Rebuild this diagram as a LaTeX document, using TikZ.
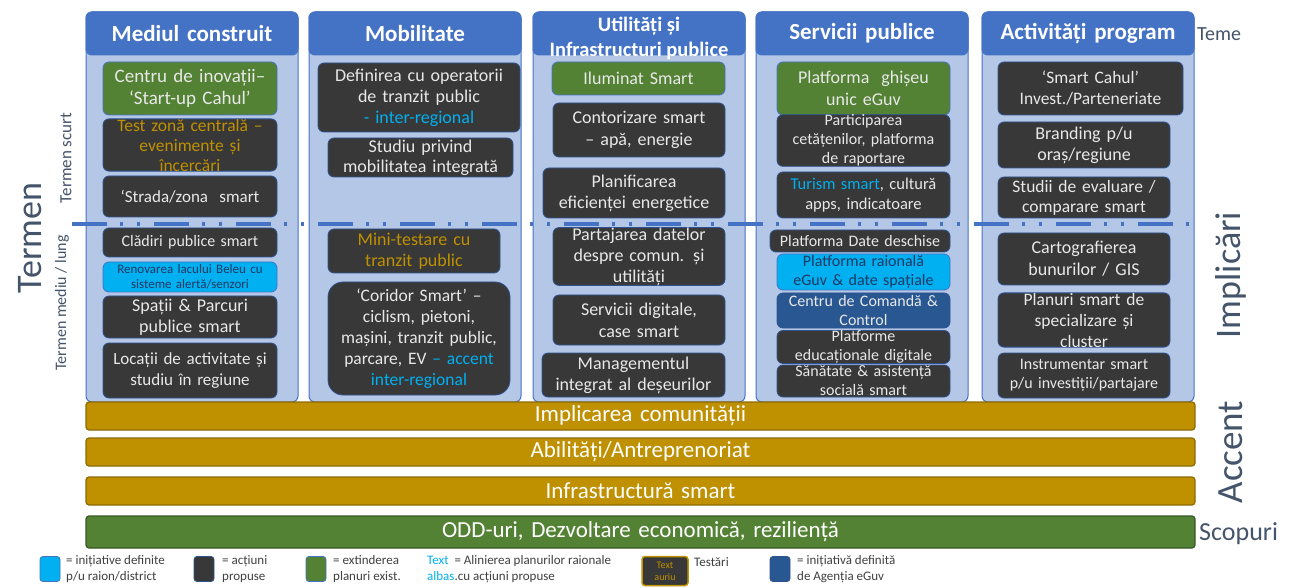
\documentclass[tikz,border=0pt]{standalone}
\usepackage{fontspec}
\setmainfont{Carlito}
\definecolor{colfill}{HTML}{B4C7E7}
\definecolor{colb}{HTML}{4472C4}
\definecolor{hdrfill}{HTML}{4472C4}
\definecolor{dkfill}{HTML}{383838}
\definecolor{dkline}{HTML}{2F528F}
\definecolor{dktext}{HTML}{E8E8E8}
\definecolor{grfill}{HTML}{548235}
\definecolor{lbfill}{HTML}{00B0F0}
\definecolor{navy}{HTML}{1F3864}
\definecolor{dbfill}{HTML}{285791}
\definecolor{gold}{HTML}{BF9000}
\definecolor{goldd}{HTML}{8C6A00}
\definecolor{greend}{HTML}{385723}
\definecolor{tblue}{HTML}{00B0F0}
\definecolor{slate}{HTML}{44546A}
\definecolor{legtext}{HTML}{404040}
\newcommand\fsz[2]{\fontsize{#1}{#2}\selectfont}
\newcommand\mkbox[7]{%
  \pgfmathsetmacro\mbw{#5-#3}%
  \pgfmathsetmacro\mbh{#6-#4}%
  \node[#2, minimum width=\mbw pt, minimum height=\mbh pt, text width=\mbw pt] (#1) at ({(#3+#5)/2},{(#4+#6)/2}) {#7};}
\tikzset{
  colbody/.style={draw=colb, fill=colfill, rounded corners=6pt, line width=1pt, inner sep=0pt},
  hdr/.style={draw=colb, fill=hdrfill, rounded corners=6pt, line width=1pt, text=white, align=center, inner sep=0pt, font=\fsz{23}{25}\bfseries},
  bbox/.style={rounded corners=6pt, draw=dkline, line width=0.8pt, align=center, inner sep=0pt},
  dk/.style={bbox, fill=dkfill, text=dktext},
  gr/.style={bbox, fill=grfill, text=dktext, draw=colb},
  lb/.style={bbox, fill=lbfill, text=navy, draw=colb},
  db/.style={bbox, fill=dbfill, text=dktext},
  bar/.style={draw=goldd, fill=gold, rounded corners=3pt, line width=1.2pt, text=white, align=center, inner sep=0pt, font=\fsz{23}{25}},
  gbar/.style={bar, draw=greend, fill=grfill},
  dashline/.style={colb, line width=3.5pt, dash pattern=on 35pt off 13pt on 3pt off 14pt on 3pt off 14pt},
  sidelab/.style={text=slate, inner sep=0pt},
  legsq/.style={rounded corners=3pt, draw=dkline, line width=0.8pt, minimum width=20pt, minimum height=25pt, inner sep=0pt},
  legtx/.style={anchor=west, align=left, text=legtext, inner sep=0pt, font=\fsz{13}{15.5}},
}
\begin{document}
\begin{tikzpicture}[x=1pt,y=-1pt]
\useasboundingbox[fill=white] (0,0) rectangle (1294,588);
% columns
\mkbox{c1}{colbody}{86}{12}{298}{402}{}
\mkbox{c2}{colbody}{309}{12}{521}{402}{}
\mkbox{c3}{colbody}{533}{12}{745}{402}{}
\mkbox{c4}{colbody}{756}{12}{968}{402}{}
\mkbox{c5}{colbody}{982}{12}{1194}{402}{}
% headers
\mkbox{h1}{hdr}{86}{12}{298}{55}{Mediul construit}
\mkbox{h2}{hdr}{309}{12}{521}{55}{Mobilitate}
\mkbox{h3}{hdr,font=\fsz{20.5}{25}\bfseries}{533}{12}{745}{55}{}
\node[text=white, align=center, inner sep=0pt, font=\fsz{20.5}{25}\bfseries] (h3t) at (639,38) {Utilități și\\Infrastructuri publice};
\mkbox{h4}{hdr}{756}{12}{968}{55}{Servicii publice}
\mkbox{h5}{hdr}{982}{12}{1194}{55}{Activități program}
% dash-dot separator
\coordinate (dl) at (72,224);
\coordinate (dr) at (1200,224);
\draw[dashline] (dl) -- (dr);
% column 1
\mkbox{m1}{gr,font=\fsz{19}{22}}{103}{62}{277}{115}{Centru de inovații–\\‘Start-up Cahul’}
\mkbox{m2}{dk,text=gold,font=\fsz{17.5}{20}}{103}{122}{277}{168}{Test zonă centrală –\\evenimente și\\încercări}
\mkbox{m3}{dk,font=\fsz{17}{20}}{103}{176}{277}{217}{‘Strada/zona\ \ smart}
\mkbox{m4}{dk,font=\fsz{16}{19}}{103}{228}{277}{257}{Clădiri publice smart}
\mkbox{m5}{lb,font=\fsz{13}{15}}{103}{262}{277}{292}{Renovarea lacului Beleu cu\\sisteme alertă/senzori}
\mkbox{m6}{dk,font=\fsz{18}{21}}{103}{296}{277}{338}{Spații \& Parcuri\\publice smart}
\mkbox{m7}{dk,font=\fsz{17}{21}}{103}{343}{277}{398}{Locații de activitate și\\studiu în regiune}
% column 2
\mkbox{o1}{dk,font=\fsz{18}{21}}{318}{63}{520}{132}{Definirea cu operatorii\\de tranzit public\\{\color{tblue}- inter-regional}}
\mkbox{o2}{dk,font=\fsz{18}{20}}{328}{138}{513}{177}{Studiu privind\\mobilitatea integrată}
\mkbox{o3}{dk,text=gold,font=\fsz{18}{21}}{328}{229}{500}{273}{Mini-testare cu\\tranzit public}
\mkbox{o4}{dk,rounded corners=15pt,font=\fsz{17.5}{21}}{328}{282}{510}{395}{‘Coridor Smart’ –\\ciclism, pietoni,\\mașini, tranzit public,\\parcare, EV {\color{tblue}– accent}\\{\color{tblue}inter-regional}}
% column 3
\mkbox{u1}{gr,font=\fsz{18}{21}}{552}{62}{725}{95}{Iluminat Smart}
\mkbox{u2}{dk,font=\fsz{18}{22}}{553}{103}{725}{157}{Contorizare smart\\– apă, energie}
\mkbox{u3}{dk,font=\fsz{18}{21}}{543}{168}{725}{218}{Planificarea\\eficienței energetice}
\mkbox{u4}{dk,font=\fsz{18}{21}}{553}{230}{725}{283}{Partajarea datelor\\despre comun. și\\utilități}
\mkbox{u5}{dk,font=\fsz{18}{22}}{553}{295}{725}{345}{Servicii digitale,\\case smart}
\mkbox{u6}{dk,font=\fsz{18}{21}}{542}{353}{725}{397}{Managementul\\integrat al deșeurilor}
% column 4
\mkbox{s1}{gr,font=\fsz{18}{22}}{777}{62}{950}{115}{Platforma\ \ ghișeu\\unic eGuv}
\mkbox{s2}{dk,font=\fsz{16}{19}}{777}{118}{950}{163}{Participarea\\cetățenilor, platforma\\de raportare}
\mkbox{s3}{dk,font=\fsz{16.5}{20}}{777}{172}{950}{218}{{\color{tblue}Turism smart}, cultură\\apps, indicatoare}
\mkbox{s4}{dk,font=\fsz{16}{19}}{770}{230}{950}{252}{Platforma Date deschise}
\mkbox{s5}{lb,font=\fsz{16}{19}}{777}{254}{950}{290}{Platforma raională\\eGuv \& date spațiale}
\mkbox{s6}{db,font=\fsz{16}{19}}{777}{293}{950}{328}{Centru de Comandă \&\\Control}
\mkbox{s7}{dk,font=\fsz{16}{19}}{777}{332}{950}{362}{Platforme\\educaționale digitale}
\mkbox{s8}{dk,font=\fsz{16}{19}}{777}{365}{950}{397}{Sănătate \& asistență\\socială smart}
% column 5
\mkbox{a1}{dk,font=\fsz{17.5}{21}}{998}{62}{1183}{115}{‘Smart Cahul’\\Invest./Parteneriate}
\mkbox{a2}{dk,font=\fsz{18}{21}}{998}{122}{1170}{168}{Branding p/u\\oraș/regiune}
\mkbox{a3}{dk,font=\fsz{17.5}{20}}{998}{177}{1170}{218}{Studii de evaluare /\\comparare smart}
\mkbox{a4}{dk,font=\fsz{18}{22}}{998}{233}{1170}{285}{Cartografierea\\bunurilor / GIS}
\mkbox{a5}{dk,font=\fsz{17.5}{21}}{998}{293}{1170}{347}{Planuri smart de\\specializare și\\cluster}
\mkbox{a6}{dk,font=\fsz{16}{19}}{998}{353}{1170}{398}{Instrumentar smart\\p/u investiții/partajare}
% bars
\mkbox{b1}{bar}{86}{402}{1195}{430}{Implicarea comunității}
\mkbox{b2}{bar}{86}{438}{1195}{466}{Abilități/Antreprenoriat}
\mkbox{b3}{bar}{86}{477}{1195}{505}{Infrastructură smart}
\mkbox{b4}{gbar}{86}{516}{1195}{548}{ODD-uri, Dezvoltare economică, reziliență}
% side labels
\node[sidelab, rotate=90, font=\fsz{36}{40}] (lterm) at (30,238) {Termen};
\node[sidelab, rotate=90, font=\fsz{17}{20}] (lscurt) at (66,158) {Termen scurt};
\node[sidelab, rotate=90, font=\fsz{16}{19}] (llung) at (62,303) {Termen mediu / lung};
\node[sidelab, rotate=90, font=\fsz{36}{40}] (limpl) at (1231,275) {Implicări};
\node[sidelab, rotate=90, font=\fsz{37}{40}] (lacc) at (1231,452) {Accent};
\node[sidelab, anchor=west, font=\fsz{20}{22}] (lteme) at (1197,34) {Teme};
\node[sidelab, anchor=west, font=\fsz{26}{28}] (lscop) at (1199,534) {Scopuri};
% legend
\node[legsq, fill=lbfill, draw=colb] (k1) at (50,569) {};
\node[legtx] (t1) at (66,569) {= inițiative definite\\p/u raion/district};
\node[legsq, fill=dkfill] (k2) at (204,569) {};
\node[legtx] (t2) at (222,569) {= acțiuni\\propuse};
\node[legsq, fill=grfill, draw=colb] (k3) at (316,569) {};
\node[legtx] (t3) at (333,569) {= extinderea\\planuri exist.};
\node[legtx] (t4) at (427,569) {{\color{tblue}Text} \ = Alinierea planurilor raionale\\{\color{tblue}albas}.cu acțiuni propuse};
\node[legsq, fill=dkfill, draw=gold, line width=1.5pt, minimum width=46pt, minimum height=29pt, text=gold, align=center, font=\fsz{10}{12}] (k5) at (665,571) {Text\\auriu};
\node[legtx, anchor=north west] (t5) at (694,557) {Testări};
\node[legsq, fill=dbfill] (k6) at (780,569) {};
\node[legtx] (t6) at (797,569) {= inițiativă definită\\de Agenția eGuv};
\end{tikzpicture}
\end{document}
